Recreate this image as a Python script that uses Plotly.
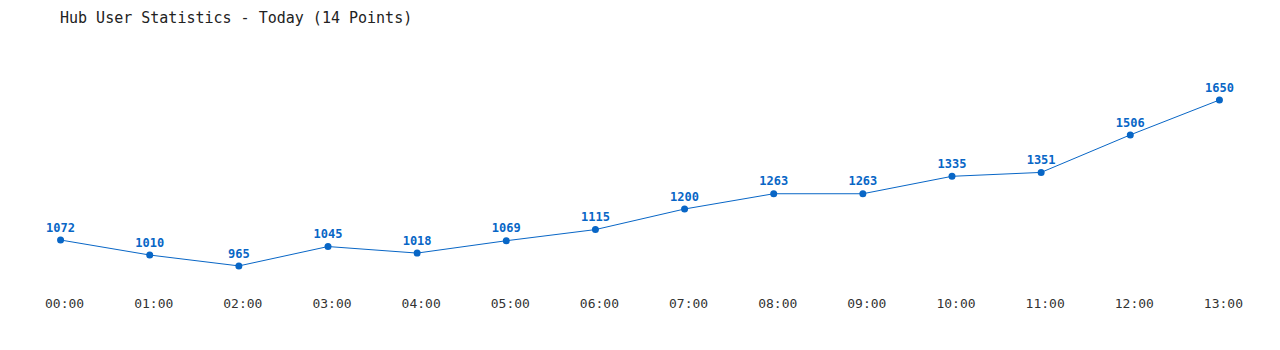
import plotly.graph_objects as go

hours = ["00:00", "01:00", "02:00", "03:00", "04:00", "05:00", "06:00",
         "07:00", "08:00", "09:00", "10:00", "11:00", "12:00", "13:00"]
users = [1072, 1010, 965, 1045, 1018, 1069, 1115, 1200, 1263, 1263, 1335, 1351, 1506, 1650]

idx = list(range(len(hours)))
blue = "#0866c6"

fig = go.Figure(go.Scatter(
    x=idx, y=users, mode="lines+markers+text",
    line=dict(color=blue, width=1),
    marker=dict(color=blue, size=7),
    text=[str(v) for v in users], textposition="top center",
    textfont=dict(family="DejaVu Sans Mono", size=12, color=blue, weight="bold"),
    cliponaxis=False, hoverinfo="skip",
))

fig.update_layout(
    width=1280, height=350,
    margin=dict(l=16, r=16, t=40, b=60),
    paper_bgcolor="white", plot_bgcolor="white",
    showlegend=False,
    title=dict(text="Hub User Statistics - Today (14 Points)",
               x=60/1280, xanchor="left", xref="container",
               y=1-18/350, yanchor="middle", yref="container",
               font=dict(family="DejaVu Sans Mono", size=15, color="#222")),
    xaxis=dict(range=[-0.5, 13.5], tickvals=idx, ticktext=hours,
               showgrid=False, zeroline=False, showline=False, ticks="",
               ticklabelshift=4, ticklabelstandoff=4,
               tickfont=dict(family="DejaVu Sans Mono", size=13, color="#333")),
    yaxis=dict(range=[865.6, 1897.7], visible=False),
)

fig.write_html("out.html")
